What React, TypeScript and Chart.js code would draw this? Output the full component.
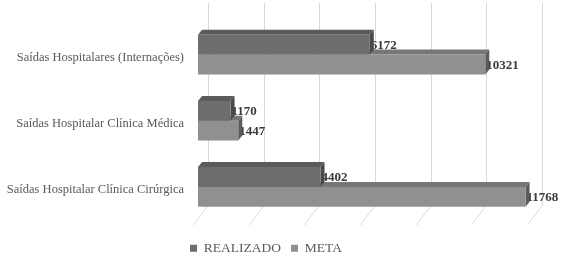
import { useEffect, useRef } from "react";
import { Chart, registerables } from "chart.js";

Chart.register(...registerables);

const categories = [
  "Saídas Hospitalares (Internações)",
  "Saídas Hospitalar Clínica Médica",
  "Saídas Hospitalar Clínica Cirúrgica",
];
const seriesNames = ["REALIZADO", "META"];
const realizado = [6172, 1170, 4402];
const meta = [10321, 1447, 11768];
const gridTicks = [0, 2000, 4000, 6000, 8000, 10000, 12000];

const FRONT = ["#6d6d6d", "#909090"];
const TOP = ["#5b5b5b", "#767676"];
const SIDE = ["#4a4a4a", "#5c5c5c"];
const DX = 4;
const DY = 5;

const bar3d = {
  id: "bar3d",
  beforeDatasetsDraw(chart: any) {
    const ctx = chart.ctx as CanvasRenderingContext2D;
    const xs = chart.scales.x;
    ctx.save();
    ctx.strokeStyle = "#d9d9d9";
    ctx.lineWidth = 1;
    for (const v of gridTicks) {
      const px = Math.round(xs.getPixelForValue(v)) + 0.5;
      ctx.beginPath();
      ctx.moveTo(px + 10, 3);
      ctx.lineTo(px + 10, 205);
      ctx.lineTo(px - 5, 225);
      ctx.stroke();
    }
    const metas = chart.data.datasets.map((_: any, i: number) => chart.getDatasetMeta(i));
    // top faces
    metas.forEach((m: any, di: number) => {
      m.data.forEach((el: any) => {
        const { x, y, base, height } = el.getProps(["x", "y", "base", "height"], true);
        const top = y - height / 2;
        ctx.fillStyle = TOP[di];
        ctx.beginPath();
        ctx.moveTo(base, top);
        ctx.lineTo(base + DX, top - DY);
        ctx.lineTo(x + DX, top - DY);
        ctx.lineTo(x, top);
        ctx.closePath();
        ctx.fill();
      });
    });
    // labels
    ctx.fillStyle = "#3a3a3a";
    ctx.font = "bold 13px 'Liberation Serif'";
    ctx.textAlign = "left";
    ctx.textBaseline = "middle";
    metas.forEach((m: any, di: number) => {
      m.data.forEach((el: any, i: number) => {
        const { x, y } = el.getProps(["x", "y"], true);
        const val = chart.data.datasets[di].data[i];
        ctx.fillText(String(val), x + 1, y + 1);
      });
    });
    // side faces
    metas.forEach((m: any, di: number) => {
      m.data.forEach((el: any) => {
        const { x, y, height } = el.getProps(["x", "y", "height"], true);
        const top = y - height / 2;
        const bot = y + height / 2;
        ctx.fillStyle = SIDE[di];
        ctx.beginPath();
        ctx.moveTo(x, top);
        ctx.lineTo(x + DX, top - DY);
        ctx.lineTo(x + DX, bot - DY);
        ctx.lineTo(x, bot);
        ctx.closePath();
        ctx.fill();
      });
    });
    ctx.restore();
  },
};

export default function App() {
  const ref = useRef<HTMLCanvasElement | null>(null);
  useEffect(() => {
    if (!ref.current) return;
    const chart = new Chart(ref.current, {
      type: "bar",
      data: {
        labels: categories,
        datasets: [
          {
            label: seriesNames[0],
            data: realizado,
            backgroundColor: FRONT[0],
            borderWidth: 0,
            categoryPercentage: 0.6,
            barPercentage: 1.0,
          },
          {
            label: seriesNames[1],
            data: meta,
            backgroundColor: FRONT[1],
            borderWidth: 0,
            categoryPercentage: 0.6,
            barPercentage: 1.0,
          },
        ],
      },
      options: {
        indexAxis: "y",
        responsive: false,
        maintainAspectRatio: false,
        animation: false,
        layout: { padding: { top: 16, right: 31, left: 0, bottom: -4 } },
        scales: {
          x: {
            min: 0,
            max: 12000,
            ticks: { display: false, stepSize: 2000 },
            grid: { display: false },
            border: { display: false },
            afterFit: (s: any) => {
              s.height = 11.5;
            },
          },
          y: {
            ticks: {
              color: "#595959",
              font: { family: "'Liberation Serif'", size: 12.5 },
              padding: 14,
              labelOffset: 3,
            },
            grid: { display: false, drawTicks: false },
            border: { display: false },
            afterFit: (s: any) => {
              s.width = 198;
            },
          },
        },
        plugins: {
          legend: {
            position: "bottom",
            labels: {
              boxWidth: 7,
              boxHeight: 7,
              padding: 10,
              color: "#595959",
              font: { family: "'Liberation Serif'", size: 13.5 },
            },
          },
          tooltip: { enabled: false },
        },
      },
      plugins: [bar3d],
    } as any);
    return () => chart.destroy();
  }, []);
  return (
    <div style={{ position: "fixed", left: 0, top: 0, width: 563, height: 261, background: "#fff" }}>
      <canvas ref={ref} width={563} height={261} style={{ display: "block" }} />
    </div>
  );
}
